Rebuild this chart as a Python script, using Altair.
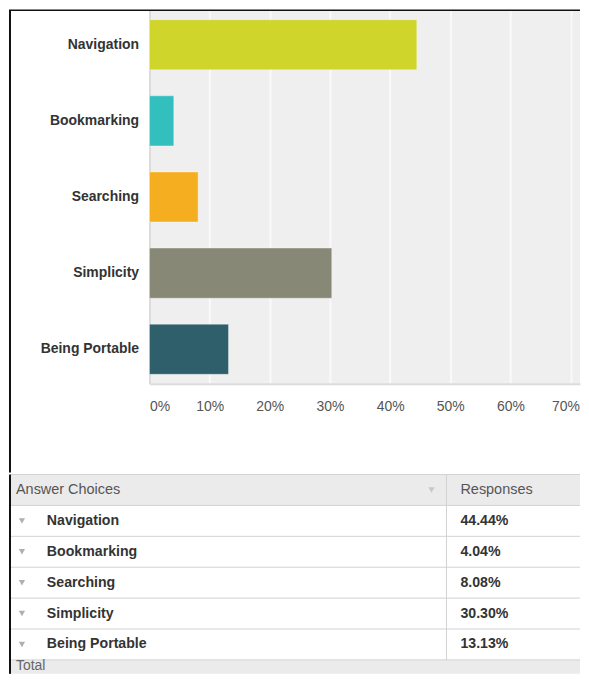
import altair as alt
import pandas as pd

# ---- data ----
cats = ["Navigation", "Bookmarking", "Searching", "Simplicity", "Being Portable"]
vals = [44.44, 4.04, 8.08, 30.30, 13.13]
pct_labels = ["44.44%", "4.04%", "8.08%", "30.30%", "13.13%"]
colors = ["#cfd52a", "#34bfbf", "#f6ae21", "#878876", "#2e5f6b"]
x_ticks = [0, 10, 20, 30, 40, 50, 60, 70]
header_left = "Answer Choices"
header_right = "Responses"
total_label = "Total"

FONT = "Liberation Sans"
W = 432          # plot width (bar panel)
H = 375          # plot height (bar panel)
L = -140         # left edge of the frame, relative to the plot origin
D = 298          # table column divider
ROW = 31         # table row height
PX_PER_PCT = 6.036
TABLE_H = 200    # visible table height (Total row is cut by the window)

bars_df = pd.DataFrame({"choice": cats, "pct": vals, "color": colors})
one = pd.DataFrame({"k": [0]})

bars = alt.Chart(bars_df).mark_bar(stroke="#ffffff", strokeOpacity=0.35, strokeWidth=1).encode(
    y=alt.Y("choice:N", sort=cats,
            scale=alt.Scale(paddingInner=0.342, paddingOuter=0.125),
            axis=alt.Axis(title=None, ticks=False, tickSize=0,
                          domainColor="#dcdcdc", domainWidth=2,
                          labelFont=FONT, labelFontSize=14, labelFontWeight="bold",
                          labelColor="#333333", labelPadding=11)),
    x=alt.X("pct:Q", scale=alt.Scale(domain=[0, W / PX_PER_PCT], nice=False),
            axis=alt.Axis(title=None, values=x_ticks, labelExpr="datum.value + '%'",
                          ticks=False, tickSize=0,
                          domainColor="#dcdcdc", domainWidth=2,
                          grid=True, gridColor="#f9f9f9", gridWidth=2,
                          labelFont=FONT, labelFontSize=14, labelColor="#555555",
                          labelPadding=16, labelFlush=True,
                          labelOffset={"condition": {"test": "datum.value == 70", "value": -5},
                                       "value": 0})),
    color=alt.Color("color:N", scale=None),
)

border_top = alt.Chart(one).mark_rule(color="#111111", strokeWidth=1.5).encode(
    x=alt.value(L - 1), x2=alt.value(W), y=alt.value(0))
border_left1 = alt.Chart(one).mark_rule(color="#111111", strokeWidth=2).encode(
    x=alt.value(L), y=alt.value(0), y2=alt.value(464))

panel1 = alt.layer(bars, border_top, border_left1).properties(
    width=W, height=H,
    view=alt.ViewBackground(fill="#efefef", strokeWidth=0))

# ---- table ----
rows = [header_left] + cats + [total_label]
yscale = alt.Scale(domain=rows, range=[0, ROW * len(rows)], paddingInner=0, paddingOuter=0)

hdf = pd.DataFrame({"row": [header_left], "left": [header_left], "right": [header_right]})
bdf = pd.DataFrame({"row": cats, "pct": pct_labels})
tdf = pd.DataFrame({"row": [total_label]})
ldf = pd.DataFrame({"row": rows})

def Y():
    return alt.Y("row:N", scale=yscale, axis=None)

h_cell = alt.Chart(hdf).mark_rect(fill="#ebebeb").encode(
    y=Y(), x=alt.value(L), x2=alt.value(W))
b_cell = alt.Chart(bdf).mark_rect(fill="#ffffff").encode(
    y=Y(), x=alt.value(L), x2=alt.value(W))
t_cell = alt.Chart(tdf).mark_rect(fill="#ebebeb").encode(
    y=alt.value(ROW * (len(rows) - 1)), y2=alt.value(TABLE_H),
    x=alt.value(L), x2=alt.value(W))

row_lines = alt.Chart(ldf).mark_rule(color="#d2d2d2", strokeWidth=1, yOffset=-ROW / 2).encode(
    y=Y(), x=alt.value(L), x2=alt.value(W))
divider = alt.Chart(one).mark_rule(color="#d2d2d2", strokeWidth=1).encode(
    x=alt.value(D), y=alt.value(0), y2=alt.value(ROW * (len(rows) - 1)))

h_txt_l = alt.Chart(hdf).mark_text(align="left", font=FONT, fontSize=14.5, color="#555555").encode(
    y=Y(), x=alt.value(L + 6), text="left:N")
h_tri = alt.Chart(hdf).mark_point(shape="triangle-down", filled=True, size=40,
                                  color="#c8c8c8", opacity=1).encode(
    y=Y(), x=alt.value(D - 15))
h_txt_r = alt.Chart(hdf).mark_text(align="left", font=FONT, fontSize=14.5, color="#555555").encode(
    y=Y(), x=alt.value(D + 14), text="right:N")

b_tri = alt.Chart(bdf).mark_point(shape="triangle-down", filled=True, size=40,
                                  color="#b0b0b0", opacity=1).encode(
    y=Y(), x=alt.value(L + 12))
b_name = alt.Chart(bdf).mark_text(align="left", font=FONT, fontSize=14.2, fontWeight="bold",
                                  color="#333333").encode(
    y=Y(), x=alt.value(L + 37), text="row:N")
b_pct = alt.Chart(bdf).mark_text(align="left", font=FONT, fontSize=14.2, fontWeight="bold",
                                 color="#333333").encode(
    y=Y(), x=alt.value(D + 14), text="pct:N")
t_txt = alt.Chart(tdf).mark_text(align="left", font=FONT, fontSize=14, color="#666666",
                                 baseline="bottom").encode(
    y=alt.value(TABLE_H - 1), x=alt.value(L + 6), text="row:N")

border_left2 = alt.Chart(one).mark_rule(color="#111111", strokeWidth=2).encode(
    x=alt.value(L), y=alt.value(0), y2=alt.value(TABLE_H))

panel2 = alt.layer(h_cell, b_cell, t_cell, row_lines, divider,
                   h_txt_l, h_tri, h_txt_r, b_tri, b_name, b_pct, t_txt,
                   border_left2).properties(width=W, height=TABLE_H)

chart = alt.vconcat(panel1, panel2, spacing=0).properties(
    padding=0, background="#ffffff"
).configure_view(strokeWidth=0)

chart.save("out.html", embed_options={"renderer": "svg", "actions": False})
